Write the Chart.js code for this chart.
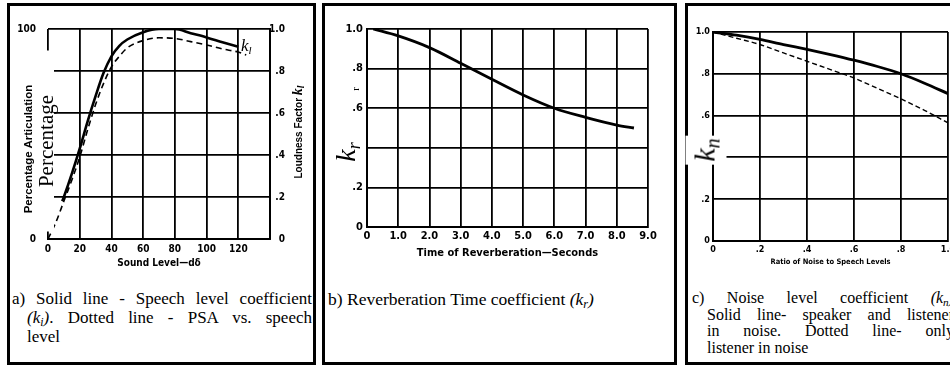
<!DOCTYPE html>
<html><head><meta charset="utf-8">
<script src="https://cdn.jsdelivr.net/npm/chart.js"></script>
<style>
html,body{margin:0;padding:0;background:#fff;}
body{width:950px;height:366px;overflow:hidden;position:relative;}
.panel{position:absolute;top:3px;height:362px;border:3px solid #000;box-sizing:border-box;}
canvas{position:absolute;top:0;}
.rot{position:absolute;transform:translate(-50%,-50%) rotate(-90deg);white-space:nowrap;color:#000;line-height:1;text-align:center;}
.ln{position:absolute;font-family:'Liberation Serif','Times New Roman',serif;font-size:17px;line-height:20px;color:#000;white-space:nowrap;}
.j{text-align:justify;text-align-last:justify;white-space:normal;}
.c .ln{font-size:16px;}
i sub{font-size:0.7em;vertical-align:-0.25em;line-height:0;}
</style></head>
<body>
<div class="panel" style="left:7px;width:309px"></div>
<div class="panel" style="left:322px;width:355px"></div>
<div class="panel" style="left:685px;width:300px"></div>

<canvas id="ca" width="316" height="275" style="left:0"></canvas>
<canvas id="cb" width="355" height="275" style="left:322px"></canvas>
<canvas id="cc" width="300" height="275" style="left:685px"></canvas>

<!-- panel a labels -->
<div class="rot" style="left:27.5px;top:149px;font:bold 11.5px 'Liberation Sans',Arial,sans-serif;">Percentage Articulation</div>
<div class="rot" style="left:44px;top:140.5px;width:181px;height:20px;line-height:20px;background:#fff;font:21px 'Liberation Serif','Times New Roman',serif;">Percentage</div>
<div class="rot" style="left:297.5px;top:132px;font:bold 10px 'Liberation Sans',Arial,sans-serif;">Loudness Factor <i style="font:italic bold 14px 'Liberation Serif',serif">k<sub>l</sub></i></div>
<div style="position:absolute;left:241px;top:37px;font:italic 17px 'Liberation Serif',serif;line-height:1">k<span style="font-size:11px;vertical-align:-3px">l</span></div>

<!-- panel b labels -->
<div class="rot" style="left:347px;top:152px;font:italic 28px 'Liberation Serif',serif;">k<span style="font-size:18px;vertical-align:-5px">r</span></div>
<div class="rot" style="left:355px;top:89px;font:11px 'Liberation Serif',serif;">r</div>

<!-- panel c labels -->
<div class="rot" style="left:706px;top:150px;font:italic 30px 'Liberation Serif',serif;background:#fff;padding:2px 3px;">k<span style="font-size:20px;vertical-align:-5px">n</span></div>

<!-- captions -->
<div class="ln j" style="left:12px;top:289px;width:300px">a) Solid line - Speech level coefficient</div>
<div class="ln j" style="left:27px;top:308px;width:285px"><i>(k<sub>i</sub>)</i>. Dotted line - PSA vs. speech</div>
<div class="ln" style="left:27px;top:327px;">level</div>

<div class="ln" style="left:328px;top:289px;font-size:17.5px;">b) Reverberation Time coefficient <i>(k<sub>r</sub>)</i></div>

<div class="c">
<div class="ln j" style="left:692px;top:288px;width:262px">c) Noise level coefficient <i>(k<sub>n</sub>)</i></div>
<div class="ln j" style="left:707px;top:304.5px;width:247px">Solid line- speaker and listener</div>
<div class="ln j" style="left:707px;top:321px;width:247px">in noise. Dotted line- only</div>
<div class="ln" style="left:707px;top:337.5px;">listener in noise</div>
</div>

<script>
// ---------- data ----------
// panel a: speech level coefficient k_l (solid) and PSA % (dashed)
const soundLevelKl = [9, 10, 15, 20, 25, 30, 35, 40, 45, 50, 60, 70, 80, 90, 100, 110, 120];
const kl = [0.18, 0.20, 0.31, 0.43, 0.56, 0.68, 0.79, 0.87, 0.92, 0.95, 0.985, 1.0, 1.0, 0.98, 0.96, 0.937, 0.915];
const soundLevelPsa = [0, 5, 10, 15, 20, 25, 30, 35, 40, 45, 50, 60, 70, 80, 90, 100, 110, 120, 125];
const psa = [0, 8, 18, 28, 39, 52, 64, 74, 82, 87, 91, 94.5, 95.8, 95.5, 94, 92.4, 90.5, 89, 87.6];
const soundTicks = ['0', '20', '40', '60', '80', '100', '120'];

// panel b: reverberation time coefficient k_r
const reverbTime = [0.2, 1, 2, 3, 4, 5, 6, 7, 8, 8.55];
const kr = [1.0, 0.965, 0.906, 0.827, 0.746, 0.667, 0.60, 0.554, 0.515, 0.50];

// panel c: noise level coefficient k_n
const noiseRatio = [0, 0.1, 0.2, 0.3, 0.4, 0.5, 0.6, 0.7, 0.8, 0.9, 1.0];
const knBoth = [1.0, 0.985, 0.965, 0.94, 0.917, 0.892, 0.865, 0.835, 0.80, 0.755, 0.705];
const knListener = [1.0, 0.97, 0.94, 0.90, 0.86, 0.82, 0.78, 0.73, 0.68, 0.625, 0.565];

// ---------- helpers ----------
const NARROW = "'Liberation Sans Narrow','DejaVu Sans Condensed','Liberation Sans',sans-serif";
const pts = (xs, ys) => xs.map((x, i) => ({x, y: ys[i]}));
const frac = v => { const r = Math.round(v * 10); return r === 0 ? '0' : r === 10 ? '1.0' : '.' + r; };
const grid = {color: '#000', lineWidth: 1.8, drawTicks: false};
const border = {display: true, color: '#000', width: 2};
const base = {
  responsive: false, animation: false, events: [],
  plugins: {legend: {display: false}, tooltip: {enabled: false}},
};
const line = (data, axis, opts) => Object.assign({
  data, yAxisID: axis, borderColor: '#000', backgroundColor: '#000', borderWidth: 2.6,
  pointRadius: 0, fill: false, cubicInterpolationMode: 'monotone'
}, opts || {});

// ---------- panel a ----------
new Chart(document.getElementById('ca'), {
  type: 'line',
  data: {datasets: [
    line(pts(soundLevelKl, kl), 'y'),
    line(pts(soundLevelPsa, psa), 'yL', {borderWidth: 1.6, borderDash: [6, 4]})
  ]},
  options: Object.assign({}, base, {
    layout: {padding: {top: 29, right: 31, left: 0, bottom: 0}},
    scales: {
      x: {type: 'linear', min: 0, max: 140,
        ticks: {stepSize: 20, autoSkip: false, maxRotation: 0, padding: 4, color: '#000',
          font: {family: NARROW, size: 10, weight: 'bold'},
          callback: (v) => soundTicks[v / 20] || ''},
        grid, border,
        title: {display: true, text: 'Sound Level—dδ', color: '#000',
          font: {family: NARROW, size: 10, weight: 'bold'}, padding: {top: 0, bottom: 6}},
        afterFit: s => { s.height = 36; }},
      yL: {position: 'left', min: 0, max: 100,
        ticks: {stepSize: 20, padding: 4, color: '#000', font: {family: NARROW, size: 10, weight: 'bold'},
          callback: v => (v === 0 || v === 100) ? String(v) : ''},
        grid: {display: false}, border: {display: false},
        afterFit: s => { s.width = 48; }},
      y: {position: 'right', min: 0, max: 1,
        ticks: {stepSize: 0.2, crossAlign: 'far', color: '#000', font: {family: NARROW, size: 10, weight: 'bold'},
          callback: frac},
        grid, border,
        afterFit: s => { s.width = 15; }}
    }
  })
});

// ---------- panel b ----------
new Chart(document.getElementById('cb'), {
  type: 'line',
  data: {datasets: [line(pts(reverbTime, kr), 'y', {borderWidth: 2.8})]},
  options: Object.assign({}, base, {
    layout: {padding: {top: 29, right: 29, left: 0, bottom: 0}},
    scales: {
      x: {type: 'linear', min: 0, max: 9,
        ticks: {stepSize: 1, autoSkip: false, maxRotation: 0, padding: 3, color: '#000',
          font: {family: NARROW, size: 11, weight: 'bold'},
          callback: v => v === 0 ? '0' : v.toFixed(1)},
        grid, border,
        title: {display: true, text: 'Time of Reverberation—Seconds', color: '#000',
          font: {family: NARROW, size: 11, weight: 'bold'}, padding: {top: 0, bottom: 15}},
        afterFit: s => { s.height = 48; }},
      y: {position: 'left', min: 0, max: 1,
        ticks: {stepSize: 0.2, padding: 4, color: '#000', font: {family: NARROW, size: 11, weight: 'bold'},
          callback: v => Math.round(v * 10) === 4 ? '' : frac(v)},
        grid, border,
        afterFit: s => { s.width = 45; }}
    }
  })
});

// ---------- panel c ----------
new Chart(document.getElementById('cc'), {
  type: 'line',
  data: {datasets: [
    line(pts(noiseRatio, knBoth), 'y', {borderWidth: 2.8}),
    line(pts(noiseRatio, knListener), 'y', {borderWidth: 1.4, borderDash: [5, 3]})
  ]},
  options: Object.assign({}, base, {
    layout: {padding: {top: 32, right: 37, left: 0, bottom: 0}},
    scales: {
      x: {type: 'linear', min: 0, max: 1,
        ticks: {stepSize: 0.2, autoSkip: false, maxRotation: 0, padding: 3, color: '#000',
          font: {family: NARROW, size: 9, weight: 'bold'}, callback: frac},
        grid, border,
        title: {display: true, text: 'Ratio of Noise to Speech Levels', color: '#000',
          font: {family: NARROW, size: 7.5, weight: 'bold'}, padding: {top: 0, bottom: 8}},
        afterFit: s => { s.height = 34; }},
      y: {position: 'left', min: 0, max: 1,
        ticks: {stepSize: 0.2, padding: 3, color: '#000', font: {family: NARROW, size: 9, weight: 'bold'},
          callback: v => Math.round(v * 10) === 4 ? '' : frac(v)},
        grid, border,
        afterFit: s => { s.width = 28; }}
    }
  })
});
</script>
</body></html>
